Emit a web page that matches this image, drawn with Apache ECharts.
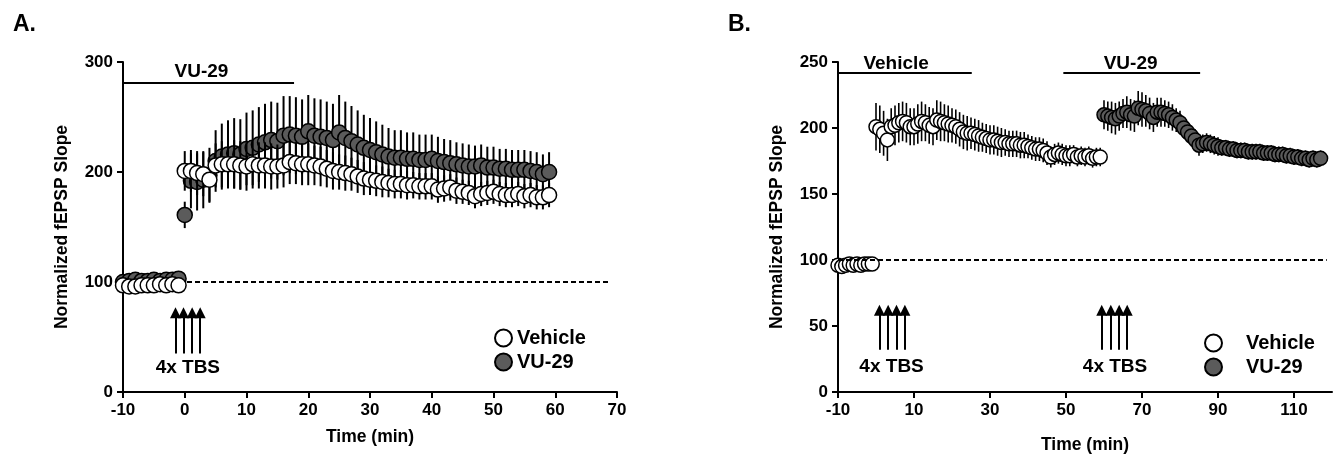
<!DOCTYPE html>
<html>
<head>
<meta charset="utf-8">
<script src="https://cdn.jsdelivr.net/npm/echarts@6/dist/echarts.min.js"></script>
<style>
    html, body { margin: 0; padding: 0; background: #fff; }
    #chart { width: 1342px; height: 459px; }
</style>
</head>
<body>
<div id="chart"></div>
<script>
// ---- data ----
const FONT = '"Liberation Sans", Arial, sans-serif';

// sampling: one point per minute
const minutes = (from, to) => { const out = []; for (let t = from; t <= to; t++) out.push(t); return out; };
const baseTimes = minutes(-10, -1);
const postTimesA = minutes(0, 59);
const postTimesBVeh = minutes(0, 59);
const postTimesBVu = minutes(60, 117);

// panel A
const aVehBase = [97, 96, 96, 97, 97, 97, 98, 97, 98, 97];
const aVuBase = [100, 101, 102, 101, 101, 102, 101, 102, 102, 103];
const aBaseErr = [3, 3, 3, 3, 3, 3, 3, 3, 3, 3];
const aVehPost = [201, 201, 199, 198, 193, 206, 207, 207, 207, 206,
    205, 207, 206, 206, 205, 205, 206, 209, 208, 207,
    207, 206, 205, 203, 201, 200, 199, 198, 196, 194,
    193, 192, 191, 190, 189, 189, 188, 188, 187, 187,
    187, 184, 185, 186, 183, 182, 181, 178, 180, 181,
    182, 180, 179, 179, 180, 178, 179, 177, 177, 179];
const aVehPostErr = [18, 19, 20, 20, 20, 20, 21, 21, 22, 22,
    22, 22, 21, 21, 21, 20, 20, 20, 19, 19,
    19, 18, 18, 17, 17, 16, 16, 15, 15, 15,
    14, 14, 14, 13, 13, 13, 13, 12, 12, 12,
    12, 12, 12, 12, 12, 11, 11, 11, 11, 11,
    11, 11, 11, 11, 11, 11, 11, 11, 11, 11];
const aVuPost = [161, 192, 191, 193, 197, 210, 214, 216, 217, 216,
    221, 222, 225, 227, 229, 228, 233, 234, 233, 232,
    237, 233, 232, 231, 229, 236, 231, 228, 225, 222,
    220, 218, 216, 214, 213, 213, 212, 212, 211, 211,
    212, 210, 209, 208, 207, 206, 205, 205, 206, 204,
    204, 203, 203, 202, 202, 202, 201, 200, 198, 200];
const aVuPostErr = [12, 25, 26, 26, 25, 28, 30, 31, 32, 32,
    33, 34, 34, 35, 35, 35, 36, 35, 35, 34,
    33, 34, 34, 33, 33, 34, 33, 32, 31, 30,
    29, 28, 27, 26, 25, 25, 24, 24, 23, 23,
    22, 22, 21, 21, 20, 20, 20, 19, 19, 19,
    19, 18, 18, 18, 18, 18, 18, 18, 18, 18];

// panel B
const bVehBase = [96, 95, 96, 97, 96, 97, 96, 97, 97, 97];
const bBaseErr = [3, 3, 3, 3, 3, 3, 3, 3, 3, 3];
const bVehPost = [201, 199, 196, 191, 201, 202, 204, 205, 204, 201,
    201, 203, 205, 204, 202, 201, 206, 205, 204, 203,
    202, 201, 199, 197, 196, 196, 195, 194, 193, 192,
    191, 191, 190, 189, 189, 188, 188, 188, 187, 187,
    186, 185, 184, 184, 183, 181, 178, 180, 181, 180,
    179, 179, 180, 178, 179, 178, 179, 177, 178, 178];
const bVehPostErr = [18, 18, 17, 16, 14, 15, 15, 15, 15, 14,
    14, 15, 15, 14, 14, 14, 15, 15, 14, 14,
    13, 13, 13, 13, 13, 12, 12, 12, 11, 11,
    11, 11, 11, 11, 10, 10, 10, 10, 10, 10,
    9, 9, 9, 9, 9, 9, 8, 8, 8, 8,
    8, 8, 7, 7, 7, 7, 7, 7, 7, 7];
const bVuPost = [210, 209, 208, 207, 209, 211, 212, 210, 209, 215,
    214, 213, 211, 208, 212, 212, 211, 210, 208, 206,
    204, 200, 197, 194, 191, 187, 188, 189, 188, 187,
    186, 185, 185, 184, 184, 183, 183, 183, 182, 182,
    182, 182, 181, 181, 181, 180, 180, 180, 179, 179,
    178, 178, 177, 177, 176, 177, 176, 177];
const bVuPostErr = [11, 11, 12, 12, 11, 11, 12, 12, 12, 13,
    13, 12, 12, 11, 11, 11, 10, 10, 10, 9,
    9, 8, 8, 8, 8, 8, 7, 7, 7, 7,
    7, 6, 6, 6, 6, 6, 6, 6, 6, 6,
    6, 6, 6, 6, 6, 6, 6, 6, 6, 6,
    6, 6, 6, 6, 6, 6, 6, 6];

// annotations (data units)
const aDrugBar = { name: 'VU-29', from: -10, to: 17.7, y: 281, textX: 2.7, textY: 291 };
const aArrows = [-1.5, -0.2, 1.2, 2.5];
const aTbsText = [0.5, 22];
const bDrugBars = [
    { name: 'Vehicle', from: -10, to: 25.2, y: 241.5, textX: 5.3, textY: 248.5 },
    { name: 'VU-29', from: 49.3, to: 85.3, y: 241.5, textX: 67, textY: 248.5 },
];
const bArrows1 = [0.9, 3.2, 5.4, 7.6];
const bArrows2 = [59.4, 61.8, 64, 66.1];
const bTbsTexts = [[4.1, 19], [62.9, 19]];

// panel B x axis is shifted so ticks start at a multiple of the interval
const B_SHIFT = 10;

// ---- helpers ----
const zipPts = (ts, vs, shift = 0) => ts.map((t, i) => [t + shift, vs[i]]);
const zipErr = (ts, vs, es, shift = 0) => ts.map((t, i) => [t + shift, vs[i] - es[i], vs[i] + es[i]]);

const errBars = (data, xi, width, z) => ({
    type: 'custom',
    xAxisIndex: xi, yAxisIndex: xi,
    silent: true,
    z: z,
    renderItem: (params, api) => {
        const p1 = api.coord([api.value(0), api.value(1)]);
        const p2 = api.coord([api.value(0), api.value(2)]);
        return {
            type: 'line',
            shape: { x1: p1[0], y1: p1[1], x2: p2[0], y2: p2[1] },
            style: { stroke: '#000', lineWidth: width },
        };
    },
    data: data,
});

const dots = (name, data, xi, color, size, z) => ({
    name: name,
    type: 'scatter',
    xAxisIndex: xi, yAxisIndex: xi,
    symbol: 'circle',
    symbolSize: size,
    z: z,
    itemStyle: { color: color, borderColor: '#000', borderWidth: 1.5, opacity: 1 },
    data: data,
});

const lineOf = (x1, y1, x2, y2) => [{ coord: [x1, y1] }, { coord: [x2, y2] }];
const arrowOf = (x, y1, y2) => [
    { coord: [x, y1], symbol: 'none' },
    { coord: [x, y2], symbol: 'triangle', symbolSize: 11 },
];

const notes = (xi, items) => ({
    type: 'scatter',
    xAxisIndex: xi, yAxisIndex: xi,
    silent: true,
    symbolSize: 0,
    z: 10,
    itemStyle: { color: 'rgba(0,0,0,0)', opacity: 1 },
    label: {
        show: true, position: 'inside', formatter: p => p.name,
        fontFamily: FONT, fontWeight: 'bold', fontSize: 19, color: '#000', opacity: 1,
    },
    data: items.map(it => ({ name: it[0], value: [it[1], it[2]] })),
});

const annotations = (xi, lines) => ({
    type: 'line',
    xAxisIndex: xi, yAxisIndex: xi,
    data: [],
    z: 1,
    markLine: {
        silent: true,
        animation: false,
        symbol: ['none', 'none'],
        label: { show: false },
        lineStyle: { color: '#000', width: 2, type: 'solid' },
        data: lines,
    },
});

const dashedOf = (x1, x2) => [
    { coord: [x1, 100], lineStyle: { type: [5, 3], width: 2, color: '#000' } },
    { coord: [x2, 100] },
];

// ---- axes ----
const tickLabel = { fontFamily: FONT, fontWeight: 'bold', fontSize: 17, color: '#000' };
const axisBase = {
    axisLine: { show: true, onZero: false, lineStyle: { color: '#000', width: 2 } },
    axisTick: { show: true, inside: false, length: 6, lineStyle: { color: '#000', width: 2 } },
    splitLine: { show: false },
    nameTextStyle: { fontFamily: FONT, fontWeight: 'bold', fontSize: 17.5, color: '#000' },
    nameLocation: 'middle',
};
const legendText = { fontFamily: FONT, fontWeight: 'bold', fontSize: 20, color: '#000' };

const chart = echarts.init(document.getElementById('chart'), null, { renderer: 'canvas' });

chart.setOption({
    animation: false,
    backgroundColor: '#fff',
    title: [
        { text: 'A.', left: 8, top: 8, textStyle: { fontFamily: FONT, fontWeight: 'bold', fontSize: 23, color: '#000' } },
        { text: 'B.', left: 723, top: 8, textStyle: { fontFamily: FONT, fontWeight: 'bold', fontSize: 23, color: '#000' } },
    ],
    grid: [
        { left: 123, right: 725, top: 62, bottom: 67 },
        { left: 838, right: 10, top: 62, bottom: 67 },
    ],
    legend: [
        {
            data: ['Vehicle', 'VU-29'], orient: 'vertical', left: 489, top: 323,
            icon: 'circle', itemWidth: 17, itemHeight: 17, itemGap: 4, selectedMode: false,
            textStyle: legendText,
        },
        {
            data: ['Vehicle', 'VU-29'], orient: 'vertical', left: 1199, top: 328,
            icon: 'circle', itemWidth: 17, itemHeight: 17, itemGap: 4, selectedMode: false,
            textStyle: Object.assign({ padding: [0, 0, 0, 19] }, legendText),
        },
    ],
    xAxis: [
        Object.assign({}, axisBase, {
            type: 'value', gridIndex: 0, min: -10, max: 70, interval: 10,
            name: 'Time (min)', nameGap: 36,
            axisLabel: Object.assign({ margin: 10 }, tickLabel),
        }),
        Object.assign({}, axisBase, {
            type: 'value', gridIndex: 1, min: 0, max: 130, interval: 20,
            name: 'Time (min)', nameGap: 44,
            axisLabel: Object.assign({ margin: 10, showMaxLabel: false, formatter: v => String(v - B_SHIFT) }, tickLabel),
        }),
    ],
    yAxis: [
        Object.assign({}, axisBase, {
            type: 'value', gridIndex: 0, min: 0, max: 300, interval: 100,
            name: 'Normalized fEPSP Slope', nameGap: 52,
            axisLabel: Object.assign({ margin: 10 }, tickLabel),
        }),
        Object.assign({}, axisBase, {
            type: 'value', gridIndex: 1, min: 0, max: 250, interval: 50,
            name: 'Normalized fEPSP Slope', nameGap: 52,
            axisLabel: Object.assign({ margin: 10 }, tickLabel),
        }),
    ],
    series: [
        // panel A annotations
        annotations(0, [
            dashedOf(-10, 69),
            lineOf(aDrugBar.from, aDrugBar.y, aDrugBar.to, aDrugBar.y),
            ...aArrows.map(x => arrowOf(x, 35, 72)),
        ]),
        notes(0, [[aDrugBar.name, aDrugBar.textX, aDrugBar.textY], ['4x TBS', aTbsText[0], aTbsText[1]]]),
        // panel A data: VU-29 first, Vehicle drawn over it
        errBars(zipErr(baseTimes, aVuBase, aBaseErr).concat(zipErr(postTimesA, aVuPost, aVuPostErr)), 0, 2, 2),
        dots('VU-29', zipPts(baseTimes, aVuBase).concat(zipPts(postTimesA, aVuPost)), 0, '#5b5b5b', 15, 3),
        errBars(zipErr(baseTimes, aVehBase, aBaseErr).concat(zipErr(postTimesA, aVehPost, aVehPostErr)), 0, 2, 4),
        dots('Vehicle', zipPts(baseTimes, aVehBase).concat(zipPts(postTimesA, aVehPost)), 0, '#ffffff', 15, 5),

        // panel B annotations
        annotations(1, [
            dashedOf(-10 + B_SHIFT, 118.6 + B_SHIFT),
            ...bDrugBars.map(b => lineOf(b.from + B_SHIFT, b.y, b.to + B_SHIFT, b.y)),
            ...bArrows1.map(x => arrowOf(x + B_SHIFT, 32, 62)),
            ...bArrows2.map(x => arrowOf(x + B_SHIFT, 32, 62)),
        ]),
        notes(1, bDrugBars.map(b => [b.name, b.textX + B_SHIFT, b.textY])
            .concat(bTbsTexts.map(p => ['4x TBS', p[0] + B_SHIFT, p[1]]))),
        errBars(zipErr(baseTimes, bVehBase, bBaseErr, B_SHIFT).concat(zipErr(postTimesBVeh, bVehPost, bVehPostErr, B_SHIFT)), 1, 1.6, 2),
        dots('Vehicle', zipPts(baseTimes, bVehBase, B_SHIFT).concat(zipPts(postTimesBVeh, bVehPost, B_SHIFT)), 1, '#ffffff', 14, 3),
        errBars(zipErr(postTimesBVu, bVuPost, bVuPostErr, B_SHIFT), 1, 1.6, 4),
        dots('VU-29', zipPts(postTimesBVu, bVuPost, B_SHIFT), 1, '#5b5b5b', 14, 5),
    ],
});
</script>
</body>
</html>
